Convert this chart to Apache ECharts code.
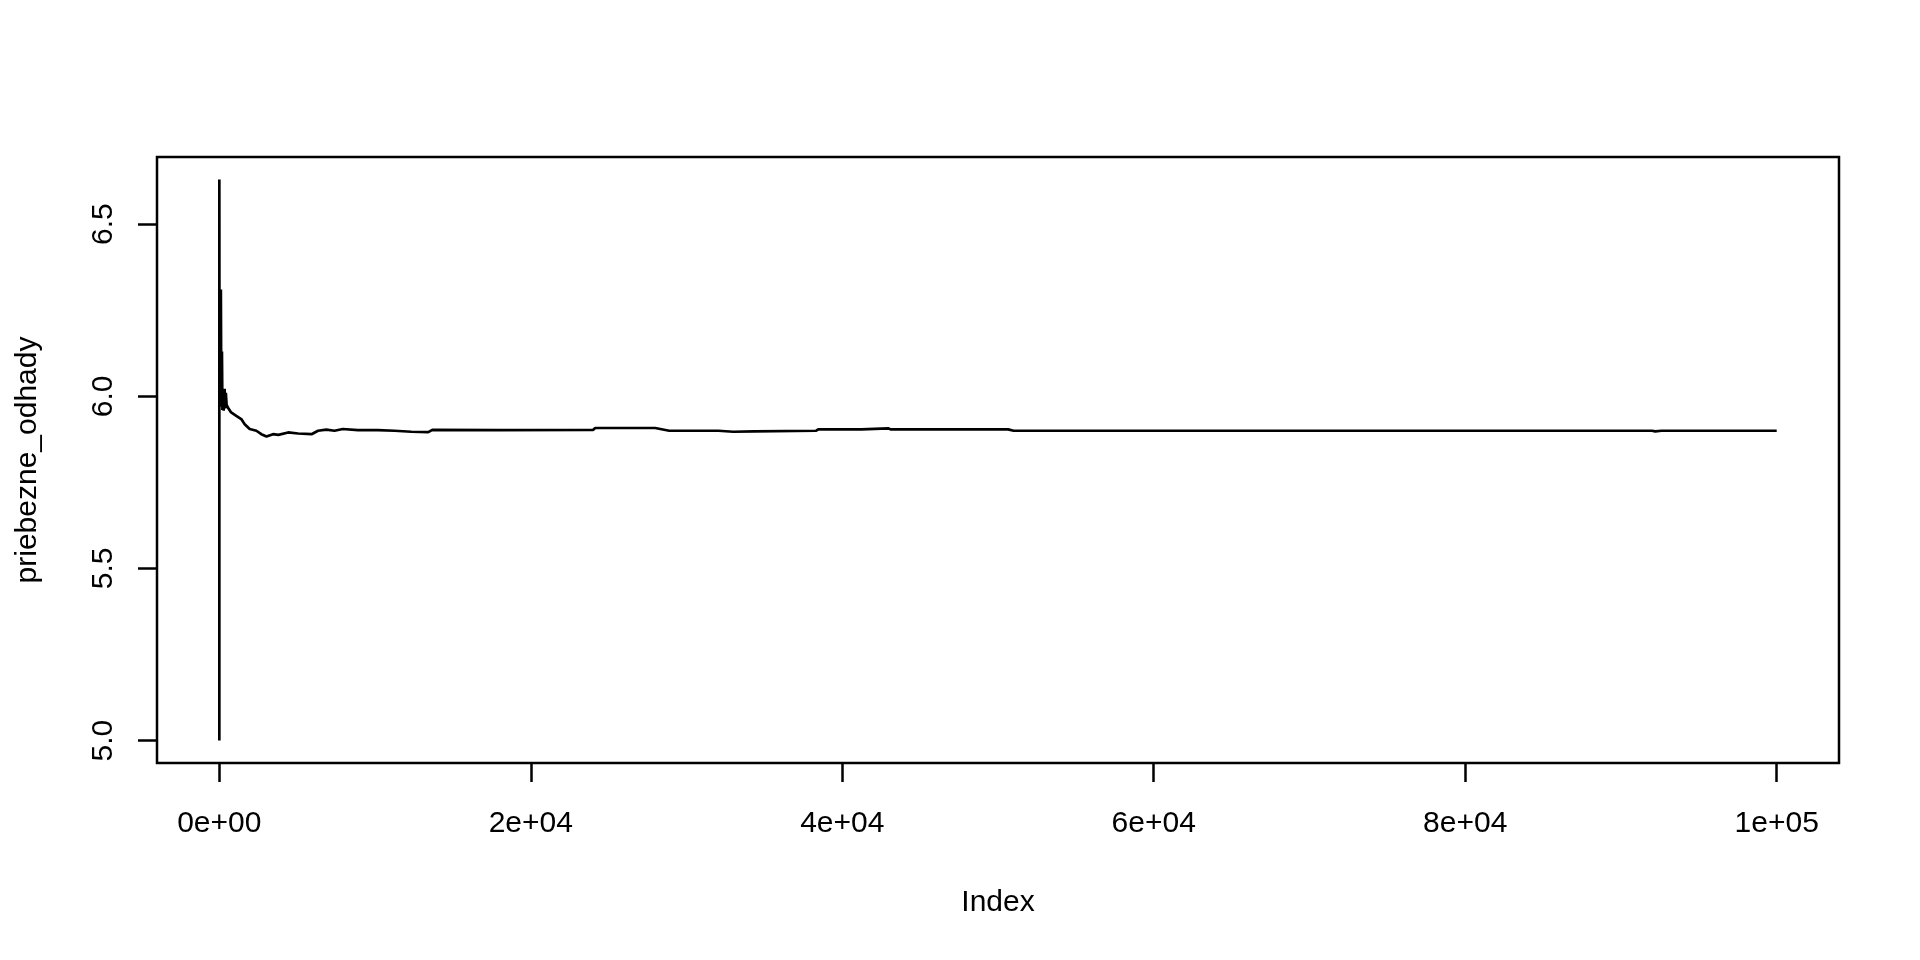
<!DOCTYPE html>
<html>
<head>
<meta charset="utf-8">
<script src="https://cdn.jsdelivr.net/npm/echarts@6/dist/echarts.min.js"></script>
<style>
html,body{margin:0;padding:0;background:#fff;}
#chart{width:1920px;height:960px;}
</style>
</head>
<body>
<div id="chart"></div>
<script>
// Index positions (x) and running estimates (y)
const indexValues = [1, 2, 10, 30, 60, 100, 130, 170, 200, 240, 280, 340, 380, 420, 470, 560, 760, 1090, 1410, 1630, 1950, 2380, 2700, 3030, 3450, 3790, 4420, 5060, 5920, 6340, 6870, 7400, 7930, 8900, 10180, 11250, 12330, 13420, 13680, 18000, 24010, 24140, 27990, 28890, 32040, 33000, 34350, 38330, 38460, 41220, 41300, 42950, 43100, 50650, 51000, 92000, 92200, 92600, 100000];
const estimates = [5.00, 6.63, 6.05, 6.20, 5.97, 6.31, 5.98, 6.13, 5.96, 6.00, 5.958, 6.022, 5.965, 6.01, 5.975, 5.967, 5.953, 5.943, 5.934, 5.919, 5.905, 5.900, 5.890, 5.883, 5.890, 5.888, 5.895, 5.892, 5.890, 5.900, 5.903, 5.900, 5.905, 5.902, 5.902, 5.900, 5.897, 5.896, 5.9026, 5.902, 5.9026, 5.908, 5.908, 5.900, 5.900, 5.897, 5.898, 5.900, 5.904, 5.904, 5.908, 5.907, 5.904, 5.904, 5.900, 5.900, 5.898, 5.900, 5.900];

const xTicks = [0, 20000, 40000, 60000, 80000, 100000];
const xTickLabels = ["0e+00", "2e+04", "4e+04", "6e+04", "8e+04", "1e+05"];
const yTicks = [5.0, 5.5, 6.0, 6.5];
const yTickLabels = ["5.0", "5.5", "6.0", "6.5"];

const xName = "Index";
const yName = "priebezne_odhady";

const points = indexValues.map((v, i) => [v, estimates[i]]);

const FONT = "'Liberation Sans', Arial, Helvetica, sans-serif";
const chart = echarts.init(document.getElementById('chart'), null, {renderer: 'canvas'});

const option = {
  animation: false,
  backgroundColor: '#ffffff',
  grid: {
    left: 157, top: 157, right: 81, bottom: 197,
    show: true, borderColor: '#000', borderWidth: 2.5, backgroundColor: 'transparent'
  },
  xAxis: {
    type: 'value',
    min: -3999.96, max: 103999.96,
    name: xName, nameLocation: 'middle', nameGap: 125,
    nameTextStyle: {fontFamily: FONT, fontSize: 30, color: '#000'},
    axisLine: {show: false, onZero: false},
    splitLine: {show: false},
    axisTick: {show: true, customValues: xTicks, length: 19, lineStyle: {color: '#000', width: 2.5}},
    axisLabel: {
      customValues: xTicks, margin: 46, fontFamily: FONT, fontSize: 30, color: '#000',
      formatter: v => xTickLabels[xTicks.indexOf(v)]
    }
  },
  yAxis: {
    type: 'value',
    min: 4.9348, max: 6.6952,
    name: yName, nameLocation: 'middle', nameGap: 114, nameRotate: 90,
    nameTextStyle: {fontFamily: FONT, fontSize: 30, color: '#000'},
    axisLine: {show: false, onZero: false},
    splitLine: {show: false},
    axisTick: {show: true, customValues: yTicks, length: 19, lineStyle: {color: '#000', width: 2.5}},
    axisLabel: {
      customValues: yTicks, margin: 38, rotate: 90, fontFamily: FONT, fontSize: 30, color: '#000',
      formatter: v => yTickLabels[yTicks.findIndex(t => Math.abs(t - v) < 1e-9)]
    }
  },
  series: [{
    type: 'line',
    data: points,
    showSymbol: false,
    symbol: 'none',
    sampling: null,
    lineStyle: {color: '#000', width: 2.7},
    emphasis: {disabled: true}
  }]
};
chart.setOption(option);
</script>
</body>
</html>
